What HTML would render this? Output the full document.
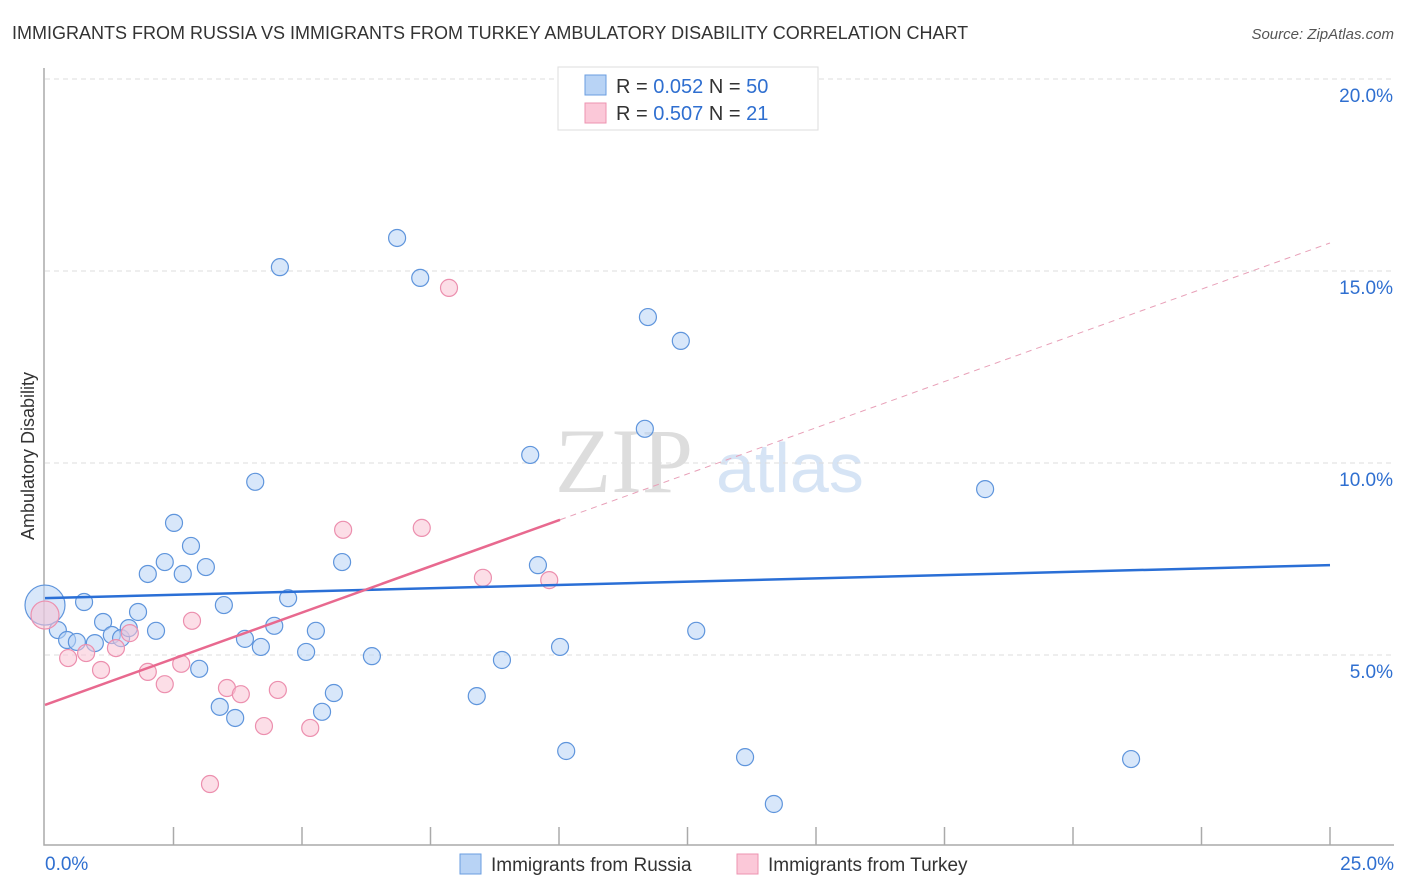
<!DOCTYPE html>
<html><head><meta charset="utf-8">
<style>
body{margin:0;background:#fff;font-family:"Liberation Sans",sans-serif;}
svg{display:block}
</style></head>
<body>
<svg id="chart" width="1406" height="892">
<text x="12" y="39" font-size="18" fill="#333">IMMIGRANTS FROM RUSSIA VS IMMIGRANTS FROM TURKEY AMBULATORY DISABILITY CORRELATION CHART</text>
<text x="1394" y="39" font-size="15" fill="#555" font-style="italic" text-anchor="end">Source: ZipAtlas.com</text>
<text x="34" y="456" font-size="18" fill="#333" text-anchor="middle" transform="rotate(-90 34 456)">Ambulatory Disability</text>
<g>
<text x="555" y="492" font-size="92" fill="#ddd" font-family="Liberation Serif,serif">ZIP</text>
<text x="716" y="492" font-size="70" fill="#d6e4f5">atlas</text>
</g>
<g id="grid"></g>
<g id="axes"></g>
<g id="marks"></g>
<g>
<rect x="558" y="67" width="260" height="63" fill="#fff" stroke="#ddd"/>
<rect x="585" y="75" width="21" height="20" fill="#b8d3f5" stroke="#6a9ee0"/>
<rect x="585" y="103" width="21" height="20" fill="#fbc8d8" stroke="#ee93b0"/>
<text x="616" y="93" font-size="20" fill="#333">R = <tspan fill="#2f6fd0">0.052</tspan>   N = <tspan fill="#2f6fd0">50</tspan></text>
<text x="616" y="120" font-size="20" fill="#333">R = <tspan fill="#2f6fd0">0.507</tspan>   N = <tspan fill="#2f6fd0"> 21</tspan></text>
</g>
<g>
<rect x="460" y="854" width="21" height="20" fill="#b8d3f5" stroke="#6a9ee0"/>
<text x="491" y="871" font-size="19" fill="#333">Immigrants from Russia</text>
<rect x="737" y="854" width="21" height="20" fill="#fbc8d8" stroke="#ee93b0"/>
<text x="768" y="871" font-size="19" fill="#333">Immigrants from Turkey</text>
</g>
</svg>
<script>
const yTicks=[5,10,15,20];
const yTickLabels=["5.0%","10.0%","15.0%","20.0%"];
const xTickLabels=["0.0%","25.0%"];
const russiaX=[0.0,0.25,0.43,0.62,0.76,0.97,1.13,1.30,1.48,1.63,1.81,2.00,2.16,2.33,2.51,2.68,2.84,3.00,3.13,3.40,3.48,3.70,3.89,4.09,4.20,4.46,4.57,4.73,5.08,5.27,5.39,5.62,5.78,6.36,6.85,7.30,8.40,8.89,9.44,9.59,10.02,10.14,11.67,11.73,12.37,12.67,13.62,14.18,18.29,21.13];
const russiaY=[6.30,5.65,5.39,5.34,6.38,5.31,5.86,5.52,5.44,5.70,6.12,7.11,5.63,7.42,8.44,7.11,7.84,4.64,7.29,3.65,6.30,3.36,5.42,9.51,5.21,5.76,15.10,6.48,5.08,5.63,3.52,4.01,7.42,4.97,15.86,14.82,3.93,4.87,10.21,7.34,5.21,2.50,10.89,13.80,13.18,5.63,2.34,1.12,9.32,2.29];
const turkeyX=[0.0,0.45,0.80,1.09,1.38,1.65,2.00,2.33,2.65,2.86,3.21,3.54,3.81,4.26,4.53,5.16,5.80,7.33,7.86,8.52,9.81];
const turkeyY=[6.04,4.92,5.05,4.61,5.18,5.57,4.56,4.24,4.77,5.89,1.64,4.14,3.98,3.15,4.09,3.10,8.26,8.31,14.56,7.01,6.95];
const russiaTrend=[6.48,7.34];
const turkeyTrend=[3.70,15.73];
const turkeySolidEnd=10.02;

const NS="http://www.w3.org/2000/svg";
const X0=45,X1=1330,Y0=847,PX=192/5;
const sx=v=>X0+(X1-X0)*v/25, sy=v=>Y0-v*PX;
function mk(t,a,p){const e=document.createElementNS(NS,t);for(const k in a)e.setAttribute(k,a[k]);p.appendChild(e);return e;}
const grid=document.getElementById('grid'),axes=document.getElementById('axes'),marks=document.getElementById('marks');
yTicks.forEach((t,i)=>{
 const l=mk('line',{x1:45,x2:1394,y1:sy(t),y2:sy(t),stroke:'#ddd','stroke-dasharray':'5,4'},grid);
 
 
 const tx=mk('text',{x:1393,y:sy(t)+23,'font-size':19,fill:'#2f6fd0','text-anchor':'end'},axes);
 tx.textContent=yTickLabels[i];
 
 
});
const ax=mk('path',{d:`M44 68V845H1394`,fill:'none',stroke:'#aaa','stroke-width':1.5},axes);


for(let i=1;i<=10;i++){const x=sx(i*2.5);const t=mk('line',{x1:x,x2:x,y1:827,y2:845,stroke:'#aaa','stroke-width':1.5},axes);
 
 }
[[0,'start',45],[25,'end',1394]].forEach((d,i)=>{const t=mk('text',{x:d[2],y:870,'font-size':19,fill:'#2f6fd0','text-anchor':d[1]},axes);t.textContent=xTickLabels[i];
 
 });
function dots(xs,ys,fill,stroke,name,bigR){
 xs.forEach((x,i)=>{const c=mk('circle',{cx:sx(x),cy:sy(ys[i]),r:i===0?bigR:8.5,fill:fill,'fill-opacity':0.55,stroke:stroke,'stroke-width':1.2},marks);
 
 });
}
dots(russiaX,russiaY,'#b8d3f5','#5f95dc','russia-point',20);
dots(turkeyX,turkeyY,'#f9c3d4','#ec8fae','turkey-point',14);
const bl=mk('line',{x1:sx(0),y1:sy(russiaTrend[0]),x2:sx(25),y2:sy(russiaTrend[1]),stroke:'#2a6fd6','stroke-width':2.5},marks);


const ty=v=>turkeyTrend[0]+(turkeyTrend[1]-turkeyTrend[0])*v/25;
const pl=mk('line',{x1:sx(0),y1:sy(ty(0)),x2:sx(turkeySolidEnd),y2:sy(ty(turkeySolidEnd)),stroke:'#e8698f','stroke-width':2.5},marks);


const pd=mk('line',{x1:sx(turkeySolidEnd),y1:sy(ty(turkeySolidEnd)),x2:sx(25),y2:sy(ty(25)),stroke:'#e8a0b8','stroke-width':1,'stroke-dasharray':'6,5'},marks);


</script>
</body></html>
